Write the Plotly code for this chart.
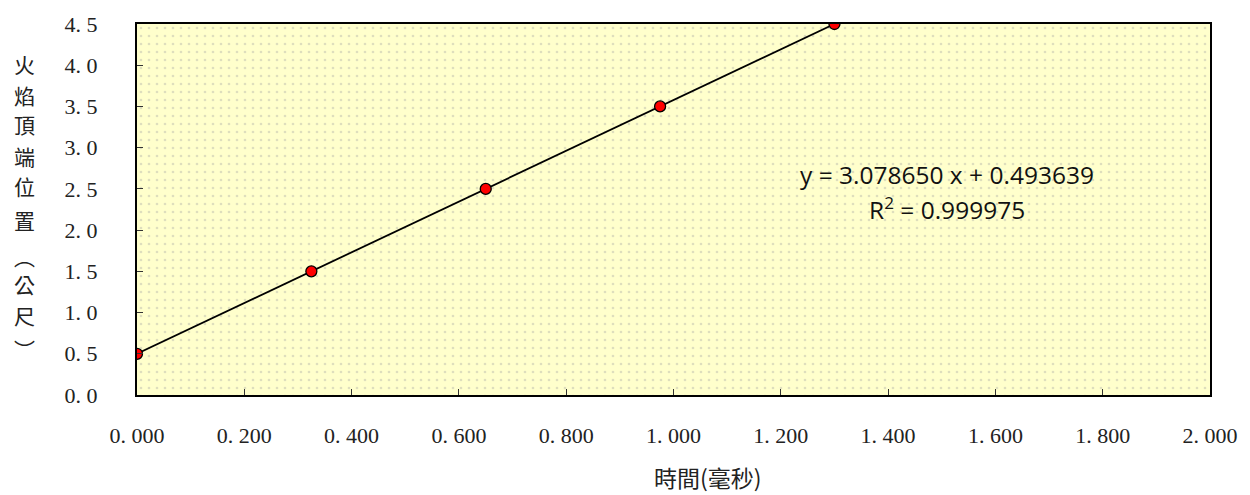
import plotly.graph_objects as go

# Data
time_ms = [0.000, 0.325, 0.650, 0.975, 1.300]
flame_top_m = [0.5, 1.5, 2.5, 3.5, 4.5]
x_ticks = [0.0, 0.2, 0.4, 0.6, 0.8, 1.0, 1.2, 1.4, 1.6, 1.8, 2.0]
x_tick_labels = ["0. 000", "0. 200", "0. 400", "0. 600", "0. 800", "1. 000",
                 "1. 200", "1. 400", "1. 600", "1. 800", "2. 000"]
y_ticks = [0.0, 0.5, 1.0, 1.5, 2.0, 2.5, 3.0, 3.5, 4.0, 4.5]
y_tick_labels = ["0. 0", "0. 5", "1. 0", "1. 5", "2. 0", "2. 5", "3. 0", "3. 5", "4. 0", "4. 5"]
x_range = [0, 2.0]
y_range = [0, 4.5]
y_title_chars = ["火", "焰", "頂", "端", "位", "置", "︵", "公", "尺", "︶"]
x_title = "時間(毫秒)"
eq_line1 = "y = 3.078650 x + 0.493639"
eq_line2 = "R<sup>2</sup> = 0.999975"

W, H = 1250, 495
L, R, T, B = 136.5, 38.5, 19.5, 100
PW, PH = W - L - R, H - T - B


def px_x(p):
    return (p - L) / PW


def px_y(p):
    return (H - B - p) / PH


fig = go.Figure()

# patterned plot-area background
fig.add_trace(go.Scatter(
    x=[x_range[0], x_range[1], x_range[1], x_range[0], x_range[0]],
    y=[y_range[0], y_range[0], y_range[1], y_range[1], y_range[0]],
    fill="toself", mode="none", hoverinfo="skip", showlegend=False,
    fillcolor="#FFFFCC",
    fillpattern=dict(shape=".", fgcolor="#BDBDAE", bgcolor="#FFFFCC", size=8, solidity=0.09),
))

fig.add_trace(go.Scatter(
    x=time_ms, y=flame_top_m, mode="lines+markers",
    line=dict(color="black", width=1.8),
    marker=dict(color="#FF0000", size=11, line=dict(color="black", width=1.3)),
    showlegend=False,
))

tick_font = dict(family="Liberation Serif", size=22, color="#222")

fig.update_xaxes(
    range=x_range, tickvals=x_ticks, ticktext=x_tick_labels, tickfont=tick_font,
    showgrid=False, zeroline=False, showline=True, linecolor="black", linewidth=2,
    mirror=True, ticks="inside", ticklen=6, tickcolor="#333", ticklabelstandoff=20,
)
fig.update_yaxes(
    range=y_range, tickvals=y_ticks, ticktext=y_tick_labels, tickfont=tick_font,
    showgrid=True, gridcolor="black", griddash="8px,5px", gridwidth=1,
    zeroline=False, showline=True, linecolor="black", linewidth=2,
    mirror=True, ticks="inside", ticklen=6, tickcolor="#333", ticklabelstandoff=33,
)

# vertical y-axis title
y_positions = [60, 91, 121, 153, 183, 218, 254, 283, 314, 348]
for ch, yp in zip(y_title_chars, y_positions):
    fig.add_annotation(
        text=ch, x=px_x(24), y=px_y(yp), xref="paper", yref="paper",
        xanchor="center", yanchor="middle",
        showarrow=False, font=dict(family="Noto Sans CJK TC", size=21, color="#222"),
    )

eq_font = dict(family="Open Sans", size=24.5, color="#111")
fig.add_annotation(text=eq_line1, x=px_x(948), y=px_y(172), xref="paper", yref="paper",
                   xanchor="center", yanchor="middle", showarrow=False, font=eq_font)
fig.add_annotation(text=eq_line2, x=px_x(948), y=px_y(206), xref="paper", yref="paper",
                   xanchor="center", yanchor="middle", showarrow=False, font=eq_font)

fig.add_annotation(text=x_title, x=px_x(709), y=px_y(478), xref="paper", yref="paper",
                   xanchor="center", yanchor="middle",
                   showarrow=False, font=dict(family="Noto Sans CJK TC", size=23, color="#222"))

fig.update_layout(
    width=W, height=H,
    margin=dict(l=L, r=R, t=T, b=B),
    paper_bgcolor="white", plot_bgcolor="#FFFFCC",
)

fig.write_html("out.html", config={"displayModeBar": False},
               post_script="document.body.style.margin='0px';")
